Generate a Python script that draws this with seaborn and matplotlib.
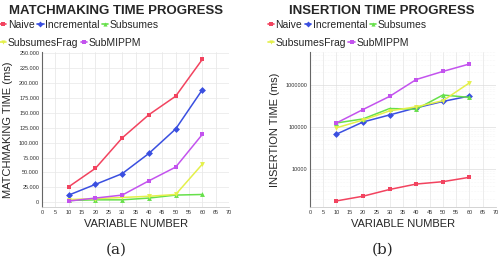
import matplotlib
matplotlib.use("Agg")
import matplotlib.pyplot as plt
import matplotlib.ticker as mticker
from matplotlib.lines import Line2D
import seaborn as sns
import pandas as pd
import numpy as np

sns.set_style("white")
plt.rcParams['font.family'] = ['Liberation Sans', 'DejaVu Sans']

variables = [10, 20, 30, 40, 50, 60]
series = ["Naive", "Incremental", "Subsumes", "SubsumesFrag", "SubMIPPM"]

match_naive = [26000, 57000, 108000, 147000, 178000, 240000]
match_incremental = [12000, 30000, 48000, 82000, 123000, 189000]
match_subsumes = [3000, 4000, 4000, 7000, 12000, 13000]
match_subsumesfrag = [4500, 6000, 8000, 10000, 13000, 64000]
match_submipmm = [2000, 7000, 12000, 36000, 59000, 114000]

ins_naive = [1770, 2290, 3310, 4450, 5060, 6430]
ins_incremental = [67900, 132000, 194000, 286000, 405000, 545000]
ins_subsumes = [125000, 156000, 275000, 265000, 575000, 506000]
ins_subsumesfrag = [96000, 147000, 242000, 302000, 421000, 1117000]
ins_submipmm = [125000, 261000, 535000, 1343000, 2089000, 3133000]

colors = {"Naive": "#f2435f", "Incremental": "#3a4fe0", "Subsumes": "#66e04a",
          "SubsumesFrag": "#e4f04a", "SubMIPPM": "#c353ee"}
markers = {"Naive": "s", "Incremental": "D", "Subsumes": "^",
           "SubsumesFrag": "v", "SubMIPPM": "s"}


def make_df(vals):
    rows = []
    for name, v in zip(series, vals):
        for x, y in zip(variables, v):
            rows.append({"var": x, "time": y, "series": name})
    return pd.DataFrame(rows)


df_match = make_df([match_naive, match_incremental, match_subsumes,
                    match_subsumesfrag, match_submipmm])
df_ins = make_df([ins_naive, ins_incremental, ins_subsumes,
                  ins_subsumesfrag, ins_submipmm])

fig = plt.figure(figsize=(4.99, 2.59), dpi=100)
ax1 = fig.add_axes([0.0842, 0.2008, 0.375, 0.598])
ax2 = fig.add_axes([0.621, 0.2008, 0.373, 0.598])

for ax, df in [(ax1, df_match), (ax2, df_ins)]:
    sns.lineplot(data=df, x="var", y="time", hue="series", style="series",
                 palette=colors, markers=markers, dashes=False, ax=ax,
                 markersize=3.5, markeredgewidth=0, linewidth=1.1, legend=False)
    ax.set_xlim(0, 70)
    ax.set_xticks(range(0, 71, 5))
    ax.tick_params(axis='both', labelsize=4, length=0, pad=2, colors="#333333")
    for s in ["top", "right"]:
        ax.spines[s].set_visible(False)
    ax.spines["left"].set_color("#666666")
    ax.spines["left"].set_linewidth(0.8)
    ax.spines["bottom"].set_color("#cccccc")
    ax.spines["bottom"].set_linewidth(0.6)
    ax.set_xlabel("VARIABLE NUMBER", fontsize=8, labelpad=3)
    ax.xaxis.grid(True, color="#e4e4e4", linewidth=0.5)

ax1.set_ylim(-8000, 252000)
ax1.set_yticks(range(0, 250001, 25000))
ax1.yaxis.set_major_formatter(mticker.FuncFormatter(
    lambda v, p: "0" if v == 0 else f"{int(v):,}".replace(",", ".")))
ax1.yaxis.grid(True, color="#e8e8e8", linewidth=0.5)
ax1.set_ylabel("MATCHMAKING TIME (ms)", fontsize=8, labelpad=4)

ax2.set_yscale("log")
ax2.set_ylim(1270, 6.0e6)
ax2.set_yticks([10000, 100000, 1000000])
ax2.yaxis.set_major_formatter(mticker.FuncFormatter(lambda v, p: f"{int(round(v))}"))
ax2.yaxis.set_minor_locator(mticker.LogLocator(base=10, subs=np.arange(2, 10)))
ax2.yaxis.set_minor_formatter(mticker.NullFormatter())
ax2.yaxis.grid(True, which="major", color="#dddddd", linewidth=0.5)
ax2.yaxis.grid(True, which="minor", color="#eeeeee", linewidth=0.4, linestyle=":")
ax2.set_ylabel("INSERTION TIME (ms)", fontsize=8, labelpad=4)

fig.text(0.232, 0.958, "MATCHMAKING TIME PROGRESS", fontsize=9.5,
         fontweight="bold", ha="center", va="center")
fig.text(0.765, 0.958, "INSERTION TIME PROGRESS", fontsize=9.5,
         fontweight="bold", ha="center", va="center")


def handle(name):
    return Line2D([0], [0], color=colors[name], marker=markers[name],
                  markersize=3, markeredgewidth=0, linewidth=1.2)


for x0 in [-0.004, 0.532]:
    for row, (names, y) in enumerate([(series[:3], 0.903), (series[3:], 0.835)]):
        leg = fig.legend([handle(n) for n in names], names, loc="center left",
                         bbox_to_anchor=(x0, y), ncol=len(names), frameon=False,
                         fontsize=7.5, handlelength=0.6, handletextpad=0.15,
                         columnspacing=0.25, borderpad=0.2, borderaxespad=0)

fig.text(0.232, 0.035, "(a)", fontsize=11, family="DejaVu Serif",
         ha="center", va="center")
fig.text(0.766, 0.035, "(b)", fontsize=11, family="DejaVu Serif",
         ha="center", va="center")

fig.savefig("out.png", dpi=100)
